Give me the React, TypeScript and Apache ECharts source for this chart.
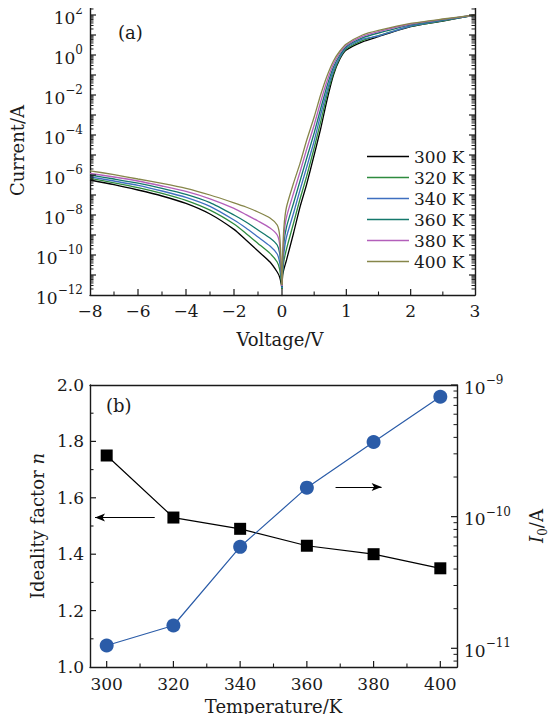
import React, { useEffect, useRef } from "react";
import * as echarts from "echarts";

// ---------- Panel (a): I–V curves, log10(current / A) ----------
const TEMPS_A = ["300 K", "320 K", "340 K", "360 K", "380 K", "400 K"];
const COLORS_A = ["#000000", "#2e8b3e", "#3f6fc0", "#14786c", "#b35fba", "#86864a"];

const V_NEG = [-8, -7, -6, -5, -4, -3, -2, -1.5, -1, -0.5, -0.2, -0.1, -0.04, 0];
const V_POS = [0, 0.01, 0.03, 0.07, 0.18, 0.28, 0.38, 0.5, 0.6, 0.7, 0.8, 0.9, 1.0, 1.25, 1.5, 2.0, 2.5, 3.0];

const LOGI_300_NEG = [-6.25, -6.48, -6.75, -7.05, -7.42, -7.95, -8.72, -9.25, -9.8, -10.35, -10.85, -11.1, -11.4, -11.7];
const LOGI_320_NEG = [-6.17, -6.39, -6.63, -6.92, -7.27, -7.76, -8.45, -8.92, -9.42, -9.92, -10.35, -10.7, -11.2, -11.7];
const LOGI_340_NEG = [-6.09, -6.3, -6.52, -6.8, -7.12, -7.57, -8.25, -8.65, -9.1, -9.55, -9.95, -10.35, -10.9, -11.65];
const LOGI_360_NEG = [-6.0, -6.2, -6.41, -6.67, -6.97, -7.38, -8.0, -8.35, -8.75, -9.15, -9.5, -9.9, -10.7, -11.6];
const LOGI_380_NEG = [-5.92, -6.1, -6.3, -6.55, -6.82, -7.19, -7.67, -7.98, -8.3, -8.65, -9.0, -9.45, -10.5, -11.55];
const LOGI_400_NEG = [-5.79, -5.98, -6.2, -6.42, -6.67, -7.0, -7.39, -7.6, -7.85, -8.15, -8.5, -9.0, -10.2, -11.5];

const LOGI_300_POS = [-11.7, -11.0, -10.7, -10.25, -8.9, -7.6, -6.5, -5.0, -3.7, -2.25, -1.0, -0.2, 0.25, 0.66, 0.92, 1.42, 1.7, 2.0];
const LOGI_320_POS = [-11.7, -10.9, -10.3, -9.7, -8.4, -7.2, -6.1, -4.65, -3.35, -2.0, -0.9, -0.15, 0.31, 0.72, 0.97, 1.43, 1.71, 2.0];
const LOGI_340_POS = [-11.65, -10.75, -9.9, -9.1, -7.9, -6.75, -5.65, -4.3, -3.0, -1.8, -0.75, -0.1, 0.37, 0.79, 0.95, 1.45, 1.73, 2.0];
const LOGI_360_POS = [-11.6, -10.6, -9.4, -8.6, -7.4, -6.3, -5.2, -3.9, -2.7, -1.55, -0.6, 0.0, 0.43, 0.86, 1.1, 1.51, 1.76, 2.0];
const LOGI_380_POS = [-11.55, -10.3, -9.0, -8.1, -6.9, -5.85, -4.75, -3.5, -2.35, -1.3, -0.45, 0.1, 0.49, 0.93, 1.17, 1.55, 1.78, 2.0];
const LOGI_400_POS = [-11.5, -10.0, -8.6, -7.6, -6.4, -5.42, -4.3, -3.1, -2.0, -1.05, -0.3, 0.2, 0.55, 1.0, 1.23, 1.58, 1.8, 2.0];

const NEG_SETS = [LOGI_300_NEG, LOGI_320_NEG, LOGI_340_NEG, LOGI_360_NEG, LOGI_380_NEG, LOGI_400_NEG];
const POS_SETS = [LOGI_300_POS, LOGI_320_POS, LOGI_340_POS, LOGI_360_POS, LOGI_380_POS, LOGI_400_POS];

const DECADES_A = [-11, -10, -9, -8, -7, -6, -5, -4, -3, -2, -1, 0, 1, 2];
const LABEL_DECADES_A = [-12, -10, -8, -6, -4, -2, 0, 2];
const Y_MIN_A = -12;
const Y_MAX_A = 2.45;
const VX_MAJOR_NEG = [-6, -4, -2];
const VX_MINOR_NEG = [-7, -5, -3, -1];
const VX_MAJOR_POS = [0, 1, 2];
const VX_MINOR_POS = [0.5, 1.5, 2.5];

// ---------- Panel (b): ideality factor and saturation current ----------
const TEMPS_B = [300, 320, 340, 360, 380, 400];
const IDEALITY_N = [1.75, 1.53, 1.49, 1.43, 1.4, 1.35];
const I0_AMP = [1.05e-11, 1.49e-11, 5.9e-11, 1.66e-10, 3.69e-10, 8.15e-10];
const T_TICKS = [300, 320, 340, 360, 380, 400];
const T_MINOR = [310, 330, 350, 370, 390];
const N_MAJOR = [1.2, 1.4, 1.6, 1.8];
const N_MINOR = [1.1, 1.3, 1.5, 1.7, 1.9];
const DECADES_B = [-11, -10, -9];
const Y2_MIN_B = -11.142;
const Y2_MAX_B = -9;

const FONT = "DejaVu Serif, serif";
const INK = "#1a1a1a";
const MINUS = "\u2212";
const MAJOR_LEN = 6;
const MINOR_LEN = 3.5;

function minorLogs(decades: number[], lo: number, hi: number) {
  const out: number[] = [];
  for (const d of decades) {
    for (let k = 2; k <= 9; k++) {
      const v = d + Math.log10(k);
      if (v > lo && v < hi) out.push(v);
    }
  }
  return out;
}

const expFmt = (v: number) => {
  const e = Math.round(v);
  return `{b|10}{s|${e < 0 ? MINUS + -e : e}}`;
};

const expRich = {
  b: { fontSize: 17, fontFamily: FONT, color: INK, lineHeight: 22, verticalAlign: "bottom" },
  s: { fontSize: 12, fontFamily: FONT, color: INK, lineHeight: 8, verticalAlign: "top" },
};

const axisLineStyle = () => ({ show: true, onZero: false, lineStyle: { color: INK, width: 1.4 } });
const labelStyle = { fontSize: 17, fontFamily: FONT, color: INK, lineHeight: 17 };
const noTick = { show: false };

// Tick marks drawn through the axes' own scales with a custom series.
function tickSeries(xIdx: number, yIdx: number, pts: number[][], dx: number, dy: number, w: number) {
  return {
    type: "custom",
    coordinateSystem: "cartesian2d",
    xAxisIndex: xIdx,
    yAxisIndex: yIdx,
    silent: true,
    z: 20,
    encode: { x: 0, y: 1 },
    data: pts,
    renderItem: (_p: any, api: any) => {
      const c = api.coord([api.value(0), api.value(1)]);
      return {
        type: "line",
        shape: { x1: c[0], y1: c[1], x2: c[0] + dx, y2: c[1] + dy },
        style: { stroke: INK, lineWidth: w },
      };
    },
  };
}

export default function App() {
  const ref = useRef<HTMLDivElement>(null);

  useEffect(() => {
    if (!ref.current) return;
    const chart = echarts.init(ref.current, null, { renderer: "svg" });

    const minorA = minorLogs([-12, ...DECADES_A], Y_MIN_A, Y_MAX_A);
    const minorB = minorLogs([-12, -11, -10], Y2_MIN_B, Y2_MAX_B);

    const seriesA: any[] = [];
    TEMPS_A.forEach((name, i) => {
      const common = {
        type: "line",
        name,
        showSymbol: false,
        symbol: "none",
        smooth: 0.2,
        color: COLORS_A[i],
        lineStyle: { color: COLORS_A[i], width: 1.3 },
        z: 2 + i,
      };
      seriesA.push({
        ...common,
        xAxisIndex: 0,
        yAxisIndex: 0,
        data: V_NEG.map((v, j) => [v, NEG_SETS[i][j]]),
      });
      seriesA.push({
        ...common,
        xAxisIndex: 1,
        yAxisIndex: 1,
        data: V_POS.map((v, j) => [v, POS_SETS[i][j]]),
      });
    });

    const ticks: any[] = [
      // panel (a) bottom
      tickSeries(0, 0, VX_MAJOR_NEG.map((v) => [v, Y_MIN_A]), 0, -MAJOR_LEN, 1.2),
      tickSeries(0, 0, VX_MINOR_NEG.map((v) => [v, Y_MIN_A]), 0, -MINOR_LEN, 1.1),
      tickSeries(1, 1, VX_MAJOR_POS.map((v) => [v, Y_MIN_A]), 0, -MAJOR_LEN, 1.2),
      tickSeries(1, 1, VX_MINOR_POS.map((v) => [v, Y_MIN_A]), 0, -MINOR_LEN, 1.1),
      // panel (a) left & right
      tickSeries(0, 0, DECADES_A.map((v) => [-8, v]), MAJOR_LEN, 0, 1.2),
      tickSeries(0, 0, minorA.map((v) => [-8, v]), MINOR_LEN, 0, 1),
      tickSeries(1, 1, DECADES_A.map((v) => [3, v]), -MAJOR_LEN, 0, 1.2),
      tickSeries(1, 1, minorA.map((v) => [3, v]), -MINOR_LEN, 0, 1),
      // panel (b) bottom
      tickSeries(2, 2, T_TICKS.map((v) => [v, 1]), 0, -MAJOR_LEN, 1.2),
      tickSeries(2, 2, T_MINOR.map((v) => [v, 1]), 0, -MINOR_LEN, 1.1),
      // panel (b) left
      tickSeries(2, 2, N_MAJOR.map((v) => [295, v]), MAJOR_LEN, 0, 1.2),
      tickSeries(2, 2, N_MINOR.map((v) => [295, v]), MINOR_LEN, 0, 1.1),
      // panel (b) right (log I0)
      tickSeries(2, 3, DECADES_B.map((v) => [405, v]), -MAJOR_LEN, 0, 1.2),
      tickSeries(2, 3, minorB.map((v) => [405, v]), -MINOR_LEN, 0, 1),
    ];

    const hidden = { axisLabel: { show: false }, splitLine: { show: false }, axisTick: noTick };

    const option: any = {
      animation: false,
      backgroundColor: "#ffffff",
      textStyle: { fontFamily: FONT },
      grid: [
        { left: 90, top: 6, width: 192, height: 289 },
        { left: 282, top: 6, width: 193, height: 289 },
        { left: 90, top: 385, width: 386, height: 282 },
      ],
      legend: {
        data: TEMPS_A,
        orient: "vertical",
        left: 362,
        top: 142,
        icon: "rect",
        itemWidth: 42,
        itemHeight: 1.6,
        itemGap: 2,
        textStyle: { fontSize: 17, fontFamily: FONT, color: INK, lineHeight: 19 },
        selectedMode: false,
      },
      xAxis: [
        {
          gridIndex: 0, type: "value", position: "bottom", min: -8, max: 0, interval: 2,
          axisLine: axisLineStyle(), axisTick: noTick,
          axisLabel: { ...labelStyle, margin: 7, formatter: (v: number) => (v < 0 ? MINUS + -v : "0") },
          splitLine: { show: false },
        },
        {
          gridIndex: 1, type: "value", position: "bottom", min: 0, max: 3, interval: 1,
          axisLine: axisLineStyle(), axisTick: noTick,
          axisLabel: { ...labelStyle, margin: 7, formatter: (v: number) => (v === 0 ? "" : String(v)) },
          splitLine: { show: false },
        },
        {
          gridIndex: 2, type: "value", position: "bottom", min: 295, max: 405,
          axisLine: axisLineStyle(), axisTick: noTick,
          axisLabel: { ...labelStyle, margin: 8, customValues: T_TICKS },
          splitLine: { show: false },
          name: "Temperature/K",
          nameLocation: "middle",
          nameGap: 30,
          nameTextStyle: { fontSize: 18, fontFamily: FONT, color: INK },
        },
        { gridIndex: 0, type: "value", position: "top", min: -8, max: 0, axisLine: axisLineStyle(), ...hidden },
        { gridIndex: 1, type: "value", position: "top", min: 0, max: 3, axisLine: axisLineStyle(), ...hidden },
        { gridIndex: 2, type: "value", position: "top", min: 295, max: 405, axisLine: axisLineStyle(), ...hidden },
      ],
      yAxis: [
        {
          gridIndex: 0, type: "value", position: "left", min: Y_MIN_A, max: Y_MAX_A,
          axisLine: axisLineStyle(), axisTick: noTick,
          axisLabel: { show: true, margin: 7, customValues: LABEL_DECADES_A, formatter: expFmt, rich: expRich },
          splitLine: { show: false },
          name: "Current/A",
          nameLocation: "middle",
          nameGap: 64,
          nameRotate: 90,
          nameTextStyle: { fontSize: 18, fontFamily: FONT, color: INK },
        },
        {
          gridIndex: 1, type: "value", position: "right", min: Y_MIN_A, max: Y_MAX_A,
          axisLine: axisLineStyle(), ...hidden,
        },
        {
          gridIndex: 2, type: "value", position: "left", min: 1, max: 2, interval: 0.2,
          axisLine: axisLineStyle(), axisTick: noTick,
          axisLabel: { ...labelStyle, margin: 6, formatter: (v: number) => v.toFixed(1) },
          splitLine: { show: false },
          name: "{t|Ideality factor }{i|n}",
          nameLocation: "middle",
          nameGap: 38,
          nameRotate: 90,
          nameTextStyle: {
            fontSize: 18, fontFamily: FONT, color: INK,
            rich: {
              t: { fontSize: 18, fontFamily: FONT, color: INK },
              i: { fontSize: 18, fontFamily: FONT, color: INK, fontStyle: "italic" },
            },
          },
        },
        {
          gridIndex: 2, type: "value", position: "right", min: Y2_MIN_B, max: Y2_MAX_B,
          axisLine: axisLineStyle(), axisTick: noTick,
          axisLabel: { show: true, margin: 7, customValues: DECADES_B, formatter: expFmt, rich: expRich },
          splitLine: { show: false },
          name: "{i|I}{sub|0}{t|/A}",
          nameLocation: "middle",
          nameGap: 70,
          nameRotate: 90,
          nameTextStyle: {
            fontSize: 18, fontFamily: FONT, color: INK,
            rich: {
              i: { fontSize: 18, fontFamily: FONT, color: INK, fontStyle: "italic", lineHeight: 22, verticalAlign: "top" },
              sub: { fontSize: 12, fontFamily: FONT, color: INK, lineHeight: 12, verticalAlign: "bottom" },
              t: { fontSize: 18, fontFamily: FONT, color: INK, lineHeight: 22, verticalAlign: "top" },
            },
          },
        },
      ],
      series: [
        ...seriesA,
        {
          type: "line",
          name: "n",
          xAxisIndex: 2,
          yAxisIndex: 2,
          data: TEMPS_B.map((t, i) => [t, IDEALITY_N[i]]),
          symbol: "rect",
          symbolSize: 12,
          color: "#000000",
          lineStyle: { color: "#000000", width: 1.2 },
          z: 5,
          markLine: {
            silent: true,
            symbol: ["none", "arrow"],
            symbolSize: [6, 10],
            label: { show: false },
            lineStyle: { color: "#000000", width: 1.2, type: "solid" },
            data: [
              [{ coord: [314.4, 1.53] }, { coord: [296.5, 1.53] }],
              [{ coord: [368.6, 1.638] }, { coord: [382.4, 1.638] }],
            ],
          },
        },
        {
          type: "line",
          name: "I0",
          xAxisIndex: 2,
          yAxisIndex: 3,
          data: TEMPS_B.map((t, i) => [t, Math.log10(I0_AMP[i])]),
          symbol: "circle",
          symbolSize: 14,
          color: "#2b5ca8",
          lineStyle: { color: "#2b5ca8", width: 1.2 },
          z: 6,
        },
        ...ticks,
      ],
      graphic: [
        {
          type: "text", x: 118, y: 32,
          style: { text: "(a)", fontSize: 18, fontFamily: FONT, fill: INK, textVerticalAlign: "middle" },
        },
        {
          type: "text", x: 106, y: 405,
          style: { text: "(b)", fontSize: 18, fontFamily: FONT, fill: INK, textVerticalAlign: "middle" },
        },
        {
          type: "text", x: 280, y: 339,
          style: { text: "Voltage/V", fontSize: 18, fontFamily: FONT, fill: INK, textAlign: "center", textVerticalAlign: "middle" },
        },
      ],
    };

    chart.setOption(option);
    return () => chart.dispose();
  }, []);

  return <div ref={ref} style={{ width: 557, height: 722, margin: -8 }} />;
}
